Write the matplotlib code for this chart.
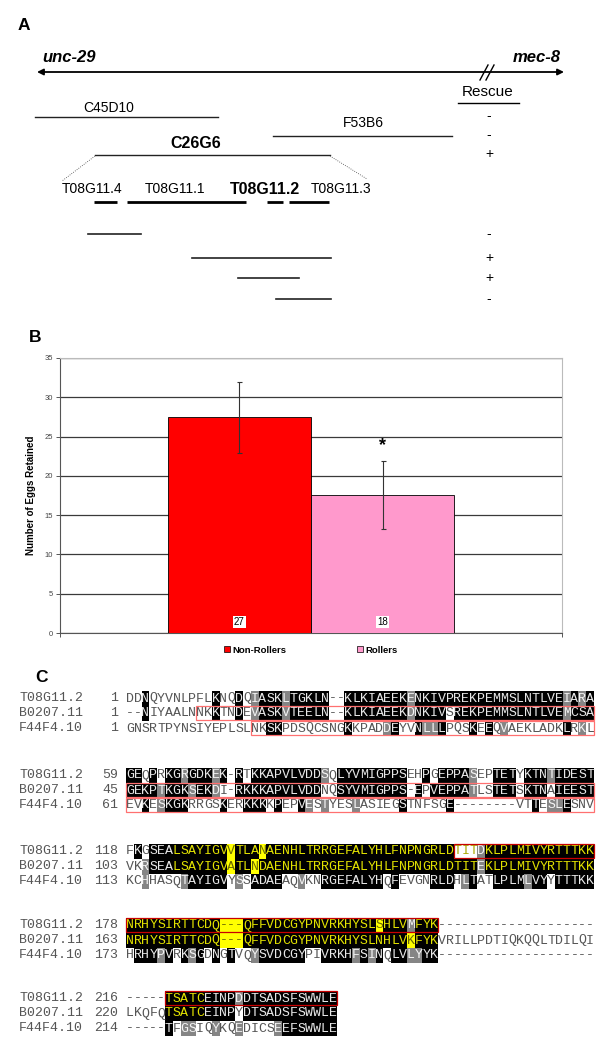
import matplotlib
matplotlib.use("Agg")
import matplotlib.pyplot as plt
from matplotlib.patches import Rectangle, Patch

### data ###

# panel A: cosmid clones, genes and rescue constructs (schematic x positions)
clone_names = ["C45D10", "F53B6", "C26G6"]
clone_spans = [(35, 218), (273, 452), (95, 330)]
clone_rescue = ["-", "-", "+"]
gene_names = ["T08G11.4", "T08G11.1", "T08G11.2", "T08G11.3"]
gene_spans = [(94, 117), (127, 246), (267, 283), (289, 329)]
construct_spans = [(88, 141), (192, 331), (238, 299), (276, 331)]
construct_rescue = ["-", "+", "+", "-"]

# panel B: egg retention
groups = ["Non-Rollers", "Rollers"]
eggs_mean = [27.45, 17.6]
eggs_err = [4.55, 4.35]
n_worms = ["27", "18"]
bar_colors = ["#ff0000", "#ff99cc"]
y_ticks = [0, 5, 10, 15, 20, 25, 30, 35]

# panel C: alignment
seq_names = ["T08G11.2", "B0207.11", "F44F4.10"]
block_starts = [[1, 1, 1], [59, 45, 61], [118, 103, 113], [178, 163, 173], [216, 220, 214]]
block_seqs = [
    ["DDNQYVNLPFLKNQDQIASKLTGKLN--KLKIAEEKENKIVPREKPEMMSLNTLVEIARA",
     "--NIYAALNNKKTNDEVASKVTEELN--KLKIAEEKDNKIVSREKPEMMSLNTLVEMCSA",
     "GNSRTPYNSIYEPLSLNKSKPDSQCSNGKKPADDEYVNLLLPQSKEEQVAEKLADKLRKL"],
    ["GEQPRKGRGDKEK-RTKKAPVLVDDSQLYVMIGPPSEHPGEPPASEPTETYKTNTIDEST",
     "GEKPTKGKSEKDI-RKKKAPVLVDDNQSYVMIGPPS-EPVEPPATLSTETSKTNAIEEST",
     "EVKESKGKRRGSKERKKKKPEPVESTYESLASIEGSTNFSGE--------VTTESLESNV"],
    ["FKGSEALSAYIGVVTLANAENHLTRRGEFALYHLFNPNGRLDTITDKLPLMIVYRTTTKK",
     "VKRSEALSAYIGVATLNDAENHLTRRGEFALYHLFNPNGRLDTITEKLPLMIVYRTTTKK",
     "KCHHASQTAYIGVYSSADAEAQVKNRGEFALYHQFEVGNRLDHLTATLPLMLVYYTTTKK"],
    ["NRHYSIRTTCDQ---QFFVDCGYPNVRKHYSLSHLVMFYK--------------------",
     "NRHYSIRTTCDQ---QFFVDCGYPNVRKHYSLNHLVKFYKVRILLPDTIQKQQLTDILQI",
     "HRHYPVRKSGDNGTVQYSVDCGYPIVRKHFSINQLVLYYK--------------------"],
    ["-----TSATCEINPDDTSADSFSWWLE",
     "LKQFQTSATCEINPYDTSADSFSWWLE",
     "-----TFGSIQYKQEDICSEEFSWWLE"],
]
# shading, run-length coded: . none, k black, g grey, o black+yellow text, y yellow, t yellow text
block_shades = [
    ["2. k 8. k 2. k . g 3k g 5k 2. 8k g 19k g k g k",
     "2. k 8. k 2. k . g 3k g 5k 2. 8k g 4k . 14k g 3k",
     "18. 2k 8. k 4. g k 2. k 2g k 3. k . k . g 7. k . g ."],
    ["2k . k . 2k g 3k g k . k . 9k g . 9k 2. k . 4k g 2. 3k . 3k g 5k",
     "4k g 3k g 2k g 2. 11k 2. 9k . k . 5k g 2. 3k . 3k . 5k",
     "2. k . g 3k 4. k 2. 3k . k 2. k g . g 3. g 5. k 5. k 10. k . 2g k 3."],
    [". k . 3k 7o y 3o y 24o 3t g 14o",
     "2. g 3k 7o y 2o y 28o g 14o",
     "2. g 4. g 5k . g . 4k 2. g 2. 8k . k 4. 3k . g k 2. 4k g 2k . 5k"],
    ["12o 3y 17o y 3o g 3o 20.",
     "12o 3y 21o y 3o 20.",
     ". 3k g k . k g k . k . k 2. g 6k 2. 4k g k g k . 2k 2g 2k 20."],
    ["5. 5o 4k g 12k",
     "5. 5o 4k . 12k",
     "5. k . 2g 2. g 2. g 4. g 7k"],
]
# boxed regions: block, row, first, last+1
boxes = [(0, 1, 9, 60), (0, 2, 16, 60), (1, 1, 0, 60), (1, 2, 0, 60),
         (2, 0, 42, 60), (3, 0, 0, 40), (4, 0, 5, 27)]

### style ###
SANS = "Liberation Sans"
MONO = "Liberation Mono"
shade_bg = {".": None, "k": "#000000", "g": "#858585", "o": "#000000",
            "y": "#ffff00", "t": None}
shade_fg = {".": "#555555", "k": "#e8e8e8", "g": "#f4f4f4", "o": "#e2e200",
            "y": "#6a6a00", "t": "#a8a800"}


def expand(rle, n):
    out = ""
    for tok in rle.split():
        cnt = int(tok[:-1]) if len(tok) > 1 else 1
        out += tok[-1] * cnt
    return out.ljust(n, ".")[:n]


fig = plt.figure(figsize=(6, 10.51), dpi=100)
ax0 = fig.add_axes([0, 0, 1, 1])
ax0.set_xlim(0, 600)
ax0.set_ylim(1051, 0)
ax0.axis("off")

# ---------------- panel A ----------------
ax0.text(18, 26, "A", fontsize=12.5, weight="bold", va="center", family=SANS)
ax0.annotate("", xy=(37, 72), xytext=(564, 72),
             arrowprops=dict(arrowstyle="<|-|>", color="black", lw=1.3,
                             mutation_scale=9, shrinkA=0, shrinkB=0))
ax0.text(42, 58, "unc-29", fontsize=12, style="italic", weight="bold",
         va="center", family=SANS)
ax0.text(561, 57, "mec-8", fontsize=12, style="italic", weight="bold",
         va="center", ha="right", family=SANS)
for dx in (0, 6):
    ax0.plot([480 + dx, 488 + dx], [80, 65], color="black", lw=1)
ax0.text(488, 92, "Rescue", fontsize=11, ha="center", va="center", family=SANS)
ax0.plot([458, 519], [103, 103], color="black", lw=1)

clone_line_y = [117, 136, 155]
clone_label_pos = [(109, 108), (363, 123), (196, 143)]
sign_x = 489
for i, name in enumerate(clone_names):
    x1, x2 = clone_spans[i]
    ax0.plot([x1, x2], [clone_line_y[i]] * 2, color="#222222", lw=1)
    bold = name == "C26G6"
    ax0.text(*clone_label_pos[i], name, fontsize=11.5 if bold else 10,
             weight="bold" if bold else "normal", ha="center", va="center",
             family=SANS)
    ax0.text(sign_x, clone_line_y[i] - 1, clone_rescue[i], fontsize=10,
             ha="center", va="center", family=SANS)

# zoom lines from C26G6
ax0.plot([95, 62], [156, 181], color="#444444", lw=0.6, ls=":")
ax0.plot([330, 367], [156, 179], color="#444444", lw=0.6, ls=":")

gene_label_x = [92, 175, 265, 341]
for i, name in enumerate(gene_names):
    x1, x2 = gene_spans[i]
    ax0.plot([x1, x2], [202, 202], color="black", lw=2, solid_capstyle="butt")
    bold = name == "T08G11.2"
    ax0.text(gene_label_x[i], 189, name, fontsize=11.5 if bold else 10,
             weight="bold" if bold else "normal", ha="center", va="center",
             family=SANS)

construct_y = [234, 258, 278, 299]
for i, (x1, x2) in enumerate(construct_spans):
    ax0.plot([x1, x2], [construct_y[i]] * 2, color="#222222", lw=1.2)
    ax0.text(sign_x, construct_y[i], construct_rescue[i], fontsize=10,
             ha="center", va="center", family=SANS)

# ---------------- panel B ----------------
ax0.text(29, 337, "B", fontsize=12.5, weight="bold", va="center", family=SANS)
axb = fig.add_axes([60 / 600, 1 - 633 / 1051, 502 / 600, 275 / 1051])
xpos = range(len(groups))
axb.bar(xpos, eggs_mean, width=1.0, color=bar_colors, edgecolor="black",
        linewidth=0.6, zorder=3)
axb.errorbar(xpos, eggs_mean, yerr=eggs_err, fmt="none", ecolor="#333333",
             elinewidth=0.8, capsize=1.8, capthick=0.8, zorder=4)
for i, n in enumerate(n_worms):
    axb.text(i, 1.4, n, ha="center", va="center", fontsize=7, family=SANS,
             bbox=dict(facecolor="white", edgecolor="none", pad=0.6), zorder=5)
axb.text(1, 23.9, "*", ha="center", va="center", fontsize=13, weight="bold",
         family=SANS, zorder=5)
axb.set_xlim(-1.25, 2.25)
axb.set_ylim(0, 35)
axb.set_yticks(y_ticks)
axb.set_yticklabels([str(t) for t in y_ticks], fontsize=5.5, color="#444444",
                    family=SANS)
axb.set_xticks([-1.25, 2.25])
axb.set_xticklabels(["", ""])
axb.tick_params(axis="both", direction="out", length=3, width=0.7,
                color="#555555", pad=2)
axb.yaxis.grid(True, color="#3a3a3a", lw=0.9, zorder=0)
axb.set_axisbelow(True)
for s in ("top", "right"):
    axb.spines[s].set_color("#bbbbbb")
    axb.spines[s].set_linewidth(0.8)
for s in ("left", "bottom"):
    axb.spines[s].set_color("#555555")
    axb.spines[s].set_linewidth(0.8)
axb.set_ylabel("Number of Eggs Retained", fontsize=7, weight="bold",
               family=SANS, labelpad=6)
handles = [Patch(facecolor=c, edgecolor="black", lw=0.5) for c in bar_colors]
axb.legend(handles, groups, loc="upper center", bbox_to_anchor=(0.5, -0.015),
           ncol=2, frameon=False, handlelength=0.6, handleheight=0.6,
           handletextpad=0.3, columnspacing=7.5,
           prop=dict(family=SANS, weight="bold", size=6.8))

# ---------------- panel C ----------------
ax0.text(35, 678, "C", fontsize=12.5, weight="bold", va="center", family=SANS)
block_y = [698, 775, 851, 925, 998]
row_h = 15
x0, cw = 126, 7.8
for b, seqs in enumerate(block_seqs):
    for r, seq in enumerate(seqs):
        y = block_y[b] + r * row_h
        ax0.text(19, y, seq_names[r], fontsize=9.5, family=MONO,
                 color="#555555", va="center")
        ax0.text(118, y, str(block_starts[b][r]), fontsize=9.5, family=MONO,
                 color="#555555", va="center", ha="right")
        shade = expand(block_shades[b][r], len(seq))
        for i, ch in enumerate(seq):
            code = shade[i]
            xl = x0 + i * cw
            if shade_bg[code] is not None:
                ax0.add_patch(Rectangle((xl, y - row_h / 2), cw, row_h,
                                        facecolor=shade_bg[code],
                                        edgecolor="none", zorder=1))
            ax0.text(xl + cw / 2, y + 0.5, ch, fontsize=9.5, family=MONO,
                     color=shade_fg[code], ha="center", va="center", zorder=2)

for b, r, i1, i2 in boxes:
    y = block_y[b] + r * row_h
    col = "#ff7070" if b < 2 else "#c80000"
    ax0.add_patch(Rectangle((x0 + i1 * cw, y - row_h / 2 + 0.5),
                            (i2 - i1) * cw, row_h - 1, facecolor="none",
                            edgecolor=col, lw=0.9, zorder=3))

fig.savefig("out.png", dpi=100)
